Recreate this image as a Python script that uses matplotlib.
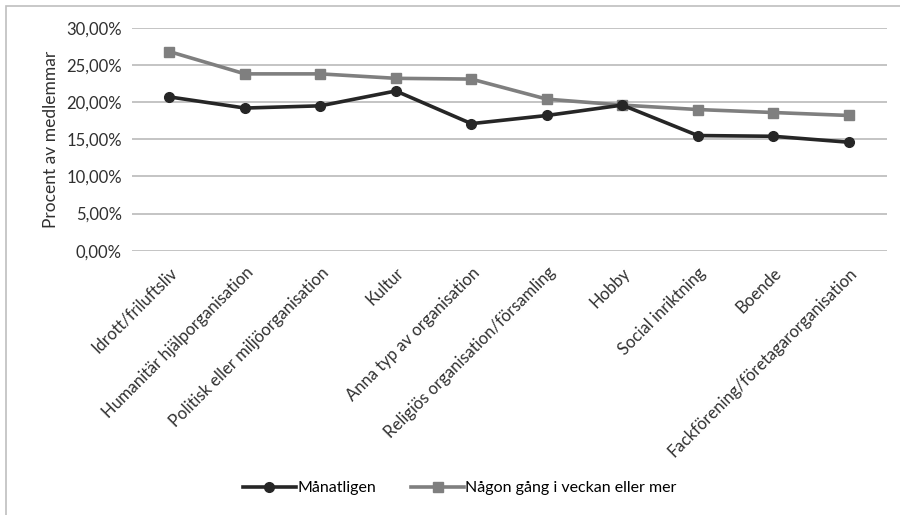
import matplotlib
matplotlib.use("Agg")
import matplotlib.pyplot as plt
from matplotlib.patches import Rectangle
from matplotlib.ticker import FuncFormatter

plt.rcParams['font.family'] = ['Lato', 'DejaVu Sans']

categories = ["Idrott/friluftsliv", "Humanitär hjälporganisation",
              "Politisk eller miljöorganisation", "Kultur",
              "Anna typ av organisation", "Religiös organisation/församling",
              "Hobby", "Social inriktning", "Boende",
              "Fackförening/företagarorganisation"]
monthly = [20.7, 19.2, 19.5, 21.5, 17.1, 18.2, 19.6, 15.5, 15.4, 14.6]
weekly = [26.8, 23.8, 23.8, 23.2, 23.1, 20.4, 19.6, 19.0, 18.6, 18.2]
series_names = ["Månatligen", "Någon gång i veckan eller mer"]
yticks = [0, 5, 10, 15, 20, 25, 30]

text_col = "#303030"

fig = plt.figure(figsize=(9, 5.15), dpi=100)
ax = fig.add_axes([0.1463, 0.5132, 0.8387, 0.4328])

x = list(range(len(categories)))
ax.plot(x, monthly, color="#262626", lw=2.6, marker="o", ms=7,
        label=series_names[0], zorder=4)
ax.plot(x, weekly, color="#7f7f7f", lw=2.6, marker="s", ms=7,
        label=series_names[1], zorder=3)

ax.set_xlim(-0.5, len(categories) - 0.5)
ax.set_ylim(0, 30)
ax.set_yticks(yticks)
ax.yaxis.set_major_formatter(FuncFormatter(lambda v, p: ("%.2f%%" % v).replace(".", ",")))
ax.grid(axis="y", color="#bfbfbf", lw=1.3)
ax.set_axisbelow(True)
for s in ax.spines.values():
    s.set_visible(False)
ax.tick_params(axis="both", length=0, labelsize=12, colors=text_col)
ax.tick_params(axis="y", pad=7)
ax.set_xticks(x)
ax.set_xticklabels(categories, rotation=45, ha="right", rotation_mode="anchor")
ax.tick_params(axis="x", pad=10)
ax.set_ylabel("Procent av medlemmar", fontsize=12.5, color=text_col, labelpad=5)

fig.legend(loc="center", bbox_to_anchor=(0.511, 0.052), ncol=2, frameon=False,
           fontsize=11.5, handlelength=3.3, handletextpad=0.1, columnspacing=2.2)

fig.patches.append(Rectangle((6 / 900, -0.1), 1.1, 1.1 - 6 / 515, transform=fig.transFigure,
                             fill=False, edgecolor="#bfbfbf", lw=1.2))

fig.savefig("out.png", dpi=100)
